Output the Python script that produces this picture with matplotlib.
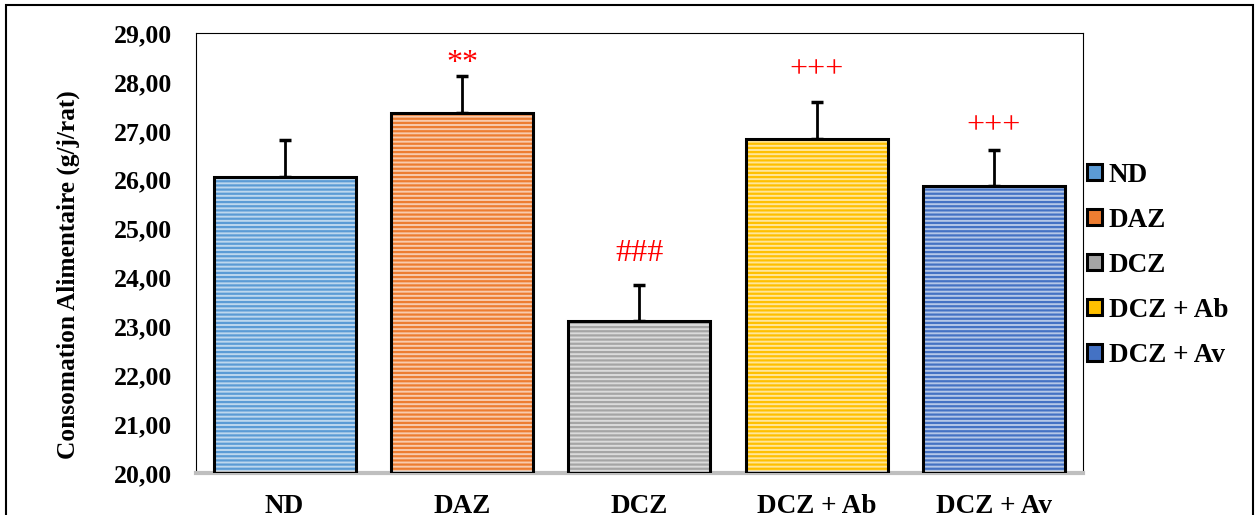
import matplotlib.pyplot as plt
from matplotlib.patches import Rectangle, Patch

plt.rcParams['font.family'] = ['Liberation Serif', 'DejaVu Serif']
plt.rcParams['font.weight'] = 'bold'
plt.rcParams['axes.labelweight'] = 'bold'
plt.rcParams['hatch.linewidth'] = 1.6

# Food intake per group (g/day/rat)
groups = ['ND', 'DAZ', 'DCZ', 'DCZ + Ab', 'DCZ + Av']
means = [26.06, 27.36, 23.11, 26.83, 25.87]
errors = [0.75, 0.76, 0.74, 0.76, 0.74]
marks = ['', '**', '###', '+++', '+++']
fills = ['#BDD7EE', '#F8CBAD', '#DBDBDB', '#FFE699', '#B4C7E7']
stripes = ['#5B9BD5', '#ED7D31', '#A5A5A5', '#FFC000', '#4472C4']

fig = plt.figure(figsize=(12.56, 5.15), dpi=100)
ax = fig.add_axes([0.156, 0.0816, 0.706, 0.854])

x = range(len(groups))
# striped fill first, then the black outline on top
for i in x:
    ax.bar(i, means[i] - 20, bottom=20, width=0.8, color=fills[i],
           hatch='----', edgecolor=stripes[i], linewidth=0, zorder=2)
ax.bar(x, [m - 20 for m in means], bottom=20, width=0.8, fill=False,
       edgecolor='black', linewidth=2.2, zorder=3)
ax.errorbar(x, means, yerr=[[0] * len(errors), errors], fmt='none',
            ecolor='black', elinewidth=2, capsize=4.5, capthick=2.5, zorder=1)

# significance labels sit a few points above each error bar
lift = [0, 4, 17, 18, 12]
for i in x:
    if marks[i]:
        ax.annotate(marks[i], (i, means[i] + errors[i]), xytext=(0, lift[i]),
                    textcoords='offset points', color='red', ha='center',
                    va='baseline', fontsize=23, fontweight='normal')

ax.set_ylim(20, 29)
ax.set_xlim(-0.5, 4.5)
ax.set_yticks(range(20, 30))
ax.set_yticklabels(['%d,00' % v for v in range(20, 30)], fontsize=18.5)
ax.set_xticks(list(x))
ax.set_xticklabels(groups, fontsize=19.5)
ax.tick_params(axis='y', length=0, pad=17)
ax.tick_params(axis='x', length=0, pad=15)
ax.set_ylabel('Consomation Alimentaire (g/j/rat)', fontsize=18.3)
ax.yaxis.set_label_coords(-0.131, 0.45)

for side in ['left', 'top', 'right']:
    ax.spines[side].set_linewidth(0.8)
ax.spines['bottom'].set_color('#BFBFBF')
ax.spines['bottom'].set_linewidth(3)

handles = [Patch(facecolor=stripes[i], edgecolor='black', linewidth=2.2) for i in x]
leg = fig.legend(handles, groups, loc='upper left', bbox_to_anchor=(0.857, 0.705),
                 frameon=False, fontsize=19.5, handlelength=0.55, handleheight=0.55,
                 handletextpad=0.25, labelspacing=0.74, borderaxespad=0)

# chart border
fig.patches.append(Rectangle((0.0048, -0.05), 0.9928, 1.04, transform=fig.transFigure,
                             fill=False, edgecolor='black', linewidth=1.5))

fig.savefig('out.png', dpi=100)
